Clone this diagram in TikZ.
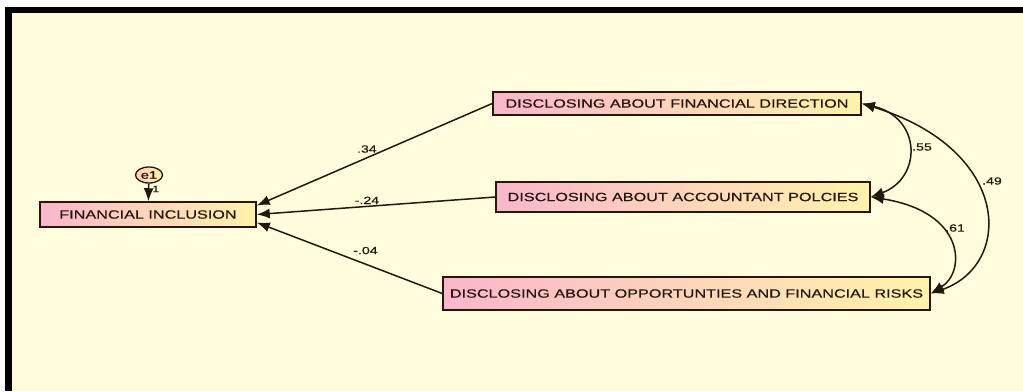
\documentclass[tikz,border=0pt]{standalone}
\usepackage{fontspec}
\setmainfont{Liberation Sans}[FakeStretch=1.35,FakeBold=0.5]
\usepackage{tikz}
\usetikzlibrary{shapes.geometric}
\usetikzlibrary{arrows.meta}
\usetikzlibrary{positioning}
\definecolor{cream}{RGB}{255,252,221}
\definecolor{boxpink}{RGB}{250,182,204}
\definecolor{boxyellow}{RGB}{255,243,170}
\definecolor{ink}{RGB}{36,24,14}
\tikzset{
  varbox/.style={draw=ink,line width=1.5pt,left color=boxpink,right color=boxyellow,
    inner sep=0pt,text=ink,font=\fontsize{12}{14}\selectfont},
  errnode/.style={ellipse,draw=ink,line width=1.3pt,left color=boxpink!60!boxyellow,
    right color=boxyellow,inner sep=0pt,minimum width=27pt,minimum height=16pt,
    text=ink,font=\fontsize{11}{12}\selectfont},
  regarrow/.style={draw=ink,line width=1.5pt,-{Latex[length=13pt,width=10pt]}},
  covarrow/.style={draw=ink,line width=1.5pt,{Latex[length=13pt,width=10pt]}-{Latex[length=13pt,width=10pt]}},
  coef/.style={text=ink,font=\fontsize{10.5}{11}\selectfont,inner sep=1pt}
}
\begin{document}
\begin{tikzpicture}[x=1pt,y=-1pt]
\useasboundingbox (0,0) rectangle (1023,391);
\fill[white] (0,0) rectangle (1023,391);
\fill[black] (5,7) rectangle (1023,391);
\fill[cream] (12,13) rectangle (1023,391);
% variables
\node[varbox,minimum width=216pt,minimum height=25pt] (fi) at (148,214.5) {FINANCIAL INCLUSION};
\node[errnode] (e1) at (149,175) {e1};
\node[varbox,minimum width=368pt,minimum height=23pt] (dfd) at (677,103.5) {DISCLOSING ABOUT FINANCIAL DIRECTION};
\node[varbox,minimum width=374pt,minimum height=30pt] (dap) at (683,197) {DISCLOSING ABOUT ACCOUNTANT POLCIES};
\node[varbox,minimum width=487pt,minimum height=33pt] (dofr) at (686.5,293.5) {DISCLOSING ABOUT OPPORTUNTIES AND FINANCIAL RISKS};
% error term
\draw[regarrow] (e1) -- (fi) node[coef,pos=0.3,right,xshift=2pt,font=\fontsize{9}{9}\selectfont] {1};
% paths
\draw[regarrow] (dfd.west) -- ([yshift=9pt]fi.east) node[coef,midway,above left,xshift=4pt] {.34};
\draw[regarrow] (dap.west) -- (fi.east) node[coef,midway,above,xshift=-9pt] {-.24};
\draw[regarrow] (dofr.west) -- ([yshift=-8pt]fi.east) node[coef,midway,above right,xshift=2pt,yshift=2pt] {-.04};
% covariances
\draw[covarrow] (dfd.east) .. controls (922,118) and (922,178) .. (dap.east);
\draw[covarrow] (dfd.east) .. controls (1013,150) and (1013,265) .. (dofr.east);
\draw[covarrow] (dap.east) .. controls (966,212) and (966,272) .. (dofr.east);
\node[coef] (c55) at (922,147) {.55};
\node[coef] (c49) at (992,181) {.49};
\node[coef] (c61) at (955,228) {.61};
\end{tikzpicture}
\end{document}
